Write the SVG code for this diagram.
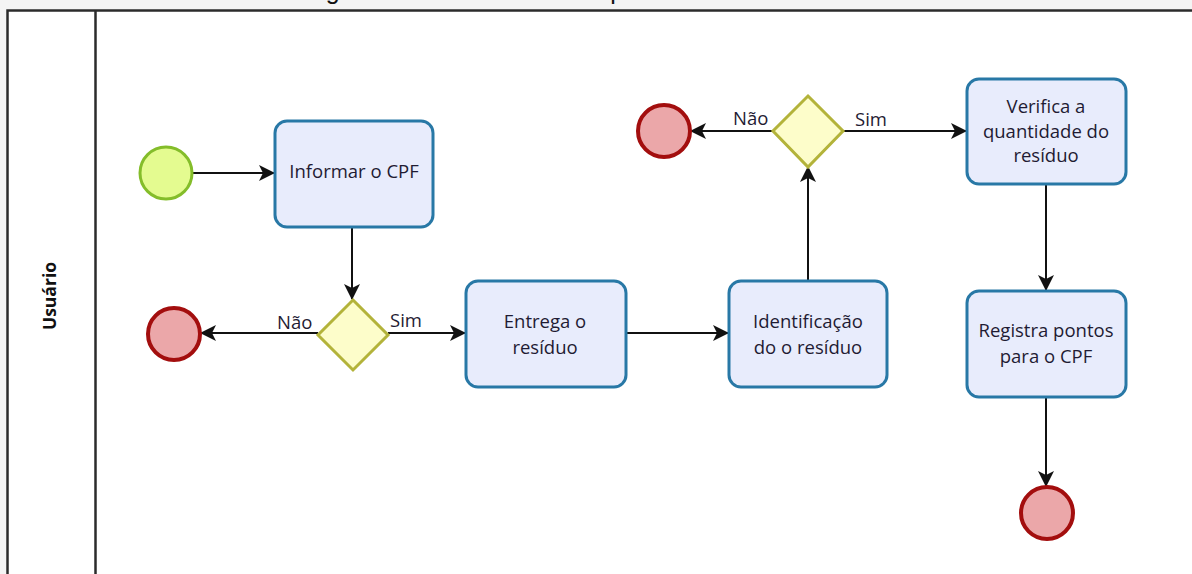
<svg xmlns="http://www.w3.org/2000/svg" width="1192" height="574" viewBox="0 0 1192 574">
  <style>
    .txt { font-family: "Open Sans", "Noto Sans", "DejaVu Sans", sans-serif; font-size: 18.5px; fill: #1f1b33; text-anchor: middle; }
    .lbl { font-family: "Open Sans", "Noto Sans", "DejaVu Sans", sans-serif; font-size: 18.5px; fill: #1f1b33; }
    .task { fill: #e8ecfc; stroke: #2878a6; stroke-width: 3; }
    .gate { fill: #fdfdca; stroke: #b3b33a; stroke-width: 3; }
    .start { fill: #e4fb90; stroke: #84bd2a; stroke-width: 3; }
    .end { fill: #eba7a9; stroke: #a30e0e; stroke-width: 4; }
    .flow { stroke: #111; stroke-width: 2; fill: none; marker-end: url(#arrow); }
    .pool { stroke: #2b2b2b; stroke-width: 2.5; fill: none; }
  </style>
  <defs>
    <marker id="arrow" viewBox="0 0 16 16" refX="15" refY="8" markerWidth="16" markerHeight="16" markerUnits="userSpaceOnUse" orient="auto">
      <path d="M0,0 L16,8 L0,16 L4,8 Z" fill="#111"/>
    </marker>
  </defs>

  <!-- page background -->
  <rect x="0" y="0" width="1192" height="574" fill="#ffffff"/>
  <rect x="0" y="0" width="1192" height="9" fill="#f4f4f4"/>
  <rect x="0" y="0" width="6" height="574" fill="#f4f4f4"/>

  <!-- caption above the pool (clipped by the top edge) -->
  <text x="305" y="-1" style="font-family: 'Liberation Sans', Arial, sans-serif; font-size: 25px; fill: #111;">Figura 11 – Processo de depósito de resíduo</text>

  <!-- pool and lane -->
  <g id="pool">
    <rect x="7.5" y="10.5" width="1200" height="600" fill="#ffffff" class="pool"/>
    <line x1="95.5" y1="10.5" x2="95.5" y2="574" class="pool"/>
    <text transform="translate(56,296) rotate(-90)" style="font-family: 'Open Sans', 'Noto Sans', sans-serif; font-size: 17.5px; font-weight: bold; fill: #111; text-anchor: middle;">Usuário</text>
  </g>

  <!-- sequence flows -->
  <g id="connectors">
    <line x1="193" y1="173" x2="274" y2="173" class="flow"/>
    <line x1="352" y1="228" x2="352" y2="299" class="flow"/>
    <line x1="318" y1="333" x2="201" y2="333" class="flow"/>
    <line x1="388" y1="333" x2="465" y2="333" class="flow"/>
    <line x1="627" y1="333" x2="728" y2="333" class="flow"/>
    <line x1="808" y1="280" x2="808" y2="167" class="flow"/>
    <line x1="773" y1="131" x2="691" y2="131" class="flow"/>
    <line x1="843" y1="131" x2="966" y2="131" class="flow"/>
    <line x1="1046" y1="185" x2="1046" y2="290" class="flow"/>
    <line x1="1046" y1="398" x2="1046" y2="486" class="flow"/>
    <text x="277" y="329" class="lbl">Não</text>
    <text x="390" y="327" class="lbl">Sim</text>
    <text x="733" y="125" class="lbl">Não</text>
    <text x="855" y="126" class="lbl">Sim</text>
  </g>

  <!-- events -->
  <g id="start"><circle cx="166" cy="173" r="26" class="start"/></g>
  <g id="end1"><circle cx="174" cy="334" r="26" class="end"/></g>
  <g id="end2"><circle cx="664" cy="131" r="26" class="end"/></g>
  <g id="end3"><circle cx="1047" cy="513" r="26" class="end"/></g>

  <!-- gateways -->
  <g id="gateway1"><polygon points="353,300 388,335 353,370 318,335" class="gate"/></g>
  <g id="gateway2"><polygon points="808,96 843,131 808,167 773,131" class="gate"/></g>

  <!-- tasks -->
  <g id="task-informar">
    <rect x="275" y="121" width="158" height="106" rx="12" class="task"/>
    <text x="354" y="178" class="txt">Informar o CPF</text>
  </g>
  <g id="task-entrega">
    <rect x="466" y="281" width="160" height="106" rx="12" class="task"/>
    <text x="545" y="328" class="txt">Entrega o</text>
    <text x="545" y="354" class="txt">resíduo</text>
  </g>
  <g id="task-identificacao">
    <rect x="729" y="281" width="158" height="106" rx="12" class="task"/>
    <text x="808" y="328" class="txt">Identificação</text>
    <text x="808" y="354" class="txt">do o resíduo</text>
  </g>
  <g id="task-verifica">
    <rect x="967" y="79" width="159" height="105" rx="12" class="task"/>
    <text x="1046" y="113" class="txt">Verifica a</text>
    <text x="1046" y="138" class="txt">quantidade do</text>
    <text x="1046" y="162" class="txt">resíduo</text>
  </g>
  <g id="task-registra">
    <rect x="967" y="291" width="159" height="106" rx="12" class="task"/>
    <text x="1046" y="337" class="txt">Registra pontos</text>
    <text x="1046" y="363" class="txt">para o CPF</text>
  </g>
</svg>
